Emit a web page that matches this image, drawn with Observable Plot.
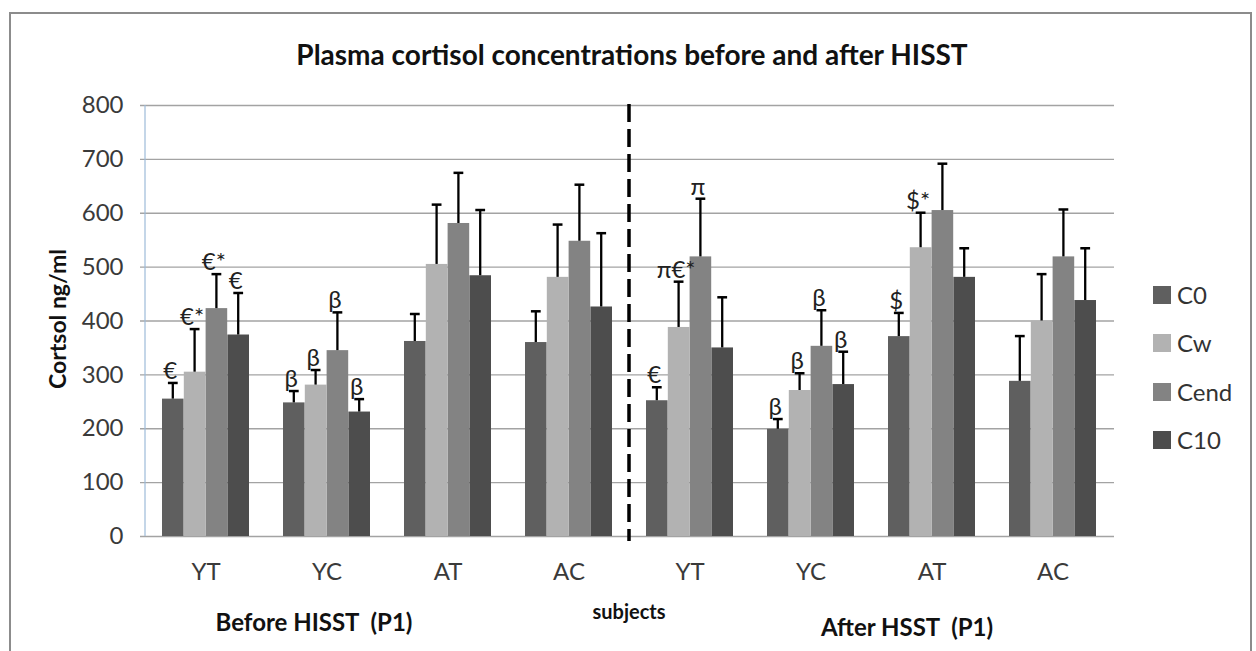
<!DOCTYPE html>
<html><head><meta charset="utf-8">
<script src="https://cdn.jsdelivr.net/npm/d3@7"></script>
<script src="https://cdn.jsdelivr.net/npm/@observablehq/plot@0.6"></script>
<style>
body{margin:0;background:#fff;}
#wrap{position:relative;width:1256px;height:651px;overflow:hidden;font-family:Lato,"Open Sans",sans-serif;background:#fff;}
#border{position:absolute;left:9px;top:12px;width:1243px;height:700px;border:2px solid #8c8c8c;box-sizing:border-box;}
.lbl{position:absolute;white-space:pre;line-height:1;transform:translate(-50%,-50%);color:#111;}
#chart{position:absolute;left:0;top:0;}
.leg{position:absolute;left:1153px;display:flex;align-items:center;font-size:24px;color:#333;line-height:1;transform:translateY(-50%);}
.leg span.sw{display:inline-block;width:18px;height:18px;margin-right:6px;}
</style></head>
<body>
<div id="wrap">
  <div id="border"></div>
  <div id="chart"></div>
  <div class="lbl" style="left:632px;top:54px;font-size:28px;font-weight:700;">Plasma cortisol concentrations before and after HISST</div>
  <div class="lbl" style="left:57px;top:319px;font-size:23px;font-weight:700;transform:translate(-50%,-50%) rotate(-90deg);">Cortsol ng/ml</div>
  <div class="lbl" style="left:314px;top:622px;font-size:24px;font-weight:700;">Before HISST  (P1)</div>
  <div class="lbl" style="left:629px;top:611px;font-size:20px;font-weight:700;">subjects</div>
  <div class="lbl" style="left:907px;top:627px;font-size:24px;font-weight:700;">After HSST  (P1)</div>
  <div id="legend"></div>
</div>
<script>
const periods = ["Before", "After"];
const groups = ["YT", "YC", "AT", "AC"];
const seriesNames = ["C0", "Cw", "Cend", "C10"];
const seriesColors = ["#5f5f5f", "#b2b2b2", "#838383", "#4d4d4d"];

// means: Before YT, YC, AT, AC, After YT, YC, AT, AC
const c0Mean   = [255, 248, 362, 360, 252, 199, 371, 288];
const cwMean   = [305, 281, 505, 481, 388, 271, 536, 400];
const cendMean = [423, 345, 581, 548, 519, 353, 605, 519];
const c10Mean  = [374, 231, 484, 426, 350, 282, 481, 438];

// upper end of the error bars
const c0Upper   = [285, 270, 413, 418, 277, 218, 415, 372];
const cwUpper   = [385, 309, 616, 579, 473, 303, 601, 487];
const cendUpper = [487, 416, 675, 653, 627, 420, 692, 607];
const c10Upper  = [452, 255, 606, 563, 444, 343, 535, 535];

// significance marks
const c0Note   = ["€", "β", "", "", "€", "β", "$", ""];
const cwNote   = ["€*", "β", "", "", "π€*", "β", "$*", ""];
const cendNote = ["€*", "β", "", "", "π", "β", "", ""];
const c10Note  = ["€", "β", "", "", "", "β", "", ""];

const yTicks = [0, 100, 200, 300, 400, 500, 600, 700, 800];

const keys = periods.flatMap(p => groups.map(g => p + "|" + g));
const means = [c0Mean, cwMean, cendMean, c10Mean];
const uppers = [c0Upper, cwUpper, cendUpper, c10Upper];
const notes = [c0Note, cwNote, cendNote, c10Note];
const rows = seriesNames.flatMap((s, i) => keys.map((k, j) => ({
  key: k, series: s, value: means[i][j], upper: uppers[i][j], note: notes[i][j]
})));

const W = 1256, H = 651, mL = 145, mR = 142, mT = 105, mB = 115;
const padIn = 0.28, padOut = 0.14;
const step = (W - mL - mR) / (keys.length - padIn + 2 * padOut);
const bandW = step * (1 - padIn);
const bw = bandW / seriesNames.length;
const n = seriesNames.length;

const marks = [
  Plot.ruleY(yTicks, {stroke: "#a3a3a3", strokeWidth: 1.3, insetLeft: -5})
];
const textMarks = [];
seriesNames.forEach((s, i) => {
  const d = rows.filter(r => r.series === s);
  const left = i * bw, right = (n - 1 - i) * bw;
  marks.push(Plot.barY(d, {x: "key", y: "value", fill: seriesColors[i], insetLeft: left, insetRight: right}));
  marks.push(Plot.barY(d, {x: "key", y1: "value", y2: "upper", fill: "#000",
    insetLeft: left + bw / 2 - 1.25, insetRight: right + bw / 2 - 1.25}));
  marks.push(Plot.tickY(d, {x: "key", y: "upper", stroke: "#000", strokeWidth: 2.5,
    insetLeft: left + bw / 2 - 5, insetRight: right + bw / 2 - 5}));
  textMarks.push(Plot.text(d.filter(r => r.note), {x: "key", y: "upper", text: "note",
    dx: (i - (n - 1) / 2) * bw - 3, dy: -4, lineAnchor: "bottom", fontSize: 24, fill: "#222"}));
});
marks.push(...textMarks);
marks.push(Plot.axisY({ticks: yTicks, tickSize: 0, tickPadding: 22, fontSize: 24, label: null}));
marks.push(Plot.axisX({tickSize: 0, tickPadding: 26, fontSize: 24, label: null,
  tickFormat: k => k.split("|")[1]}));

const plot = Plot.plot({
  width: W, height: H,
  marginLeft: mL, marginRight: mR, marginTop: mT, marginBottom: mB,
  style: {fontFamily: "Lato, 'Open Sans', sans-serif", color: "#3a3a3a", background: "transparent"},
  x: {domain: keys, paddingInner: padIn, paddingOuter: padOut, axis: null},
  y: {domain: [0, 800], axis: null},
  marks
});

// axis line and the dashed separator, placed with the plot's own scales
const xs = plot.scale("x"), ys = plot.scale("y");
const svg = d3.select(plot);
svg.append("line")
  .attr("x1", mL).attr("x2", mL)
  .attr("y1", ys.apply(800)).attr("y2", ys.apply(0))
  .attr("stroke", "#9dbbd9").attr("stroke-width", 1.2);
const xm = (xs.apply(keys[3]) + xs.bandwidth + xs.apply(keys[4])) / 2;
svg.append("line")
  .attr("x1", xm).attr("x2", xm)
  .attr("y1", ys.apply(800) - 1).attr("y2", ys.apply(0) + 5)
  .attr("stroke", "#000").attr("stroke-width", 3.5).attr("stroke-dasharray", "18,7");

document.getElementById("chart").appendChild(plot);

const legend = document.getElementById("legend");
seriesNames.forEach((s, i) => {
  const el = document.createElement("div");
  el.className = "leg";
  el.style.top = (295 + 48.3 * i) + "px";
  el.innerHTML = `<span class="sw" style="background:${seriesColors[i]}"></span>${s}`;
  legend.appendChild(el);
});
</script>
</body></html>
